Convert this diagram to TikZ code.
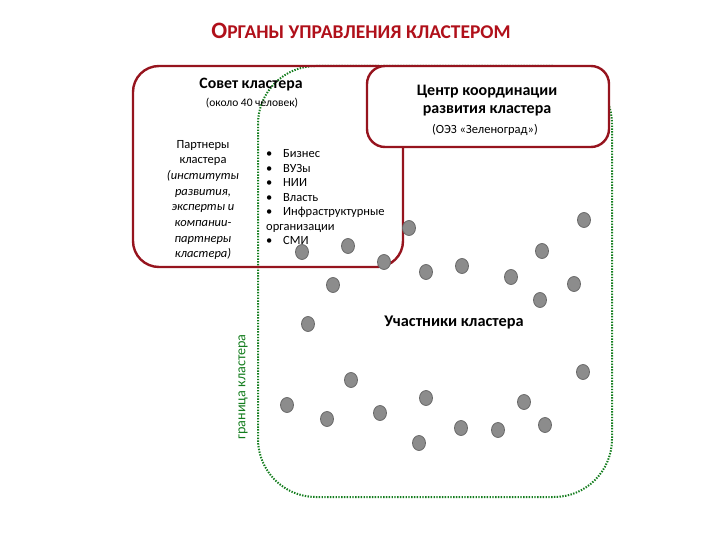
\documentclass[tikz,border=0pt]{standalone}
\usepackage{fontspec}
\setmainfont{Carlito}
\usepackage{tikz}
\usetikzlibrary{positioning,shapes.geometric}

\definecolor{titlered}{RGB}{176,16,26}
\definecolor{boxred}{RGB}{150,20,30}
\definecolor{bordergreen}{RGB}{20,125,30}
\definecolor{dotgray}{RGB}{140,140,140}
\definecolor{dotedge}{RGB}{105,105,105}

\tikzset{
  redbox/.style={draw=boxred, line width=2.4pt},
  greenline/.style={draw=bordergreen, line width=2pt, dash pattern=on 1.4pt off 1.4pt},
  member/.style={ellipse, fill=dotgray, draw=dotedge, line width=0.8pt, minimum width=13pt, minimum height=15pt, inner sep=0pt},
  bodytext/.style={font=\fontsize{12.5}{15.7}\selectfont, inner sep=0pt}
}

\begin{document}
\begin{tikzpicture}[x=1pt,y=-1pt]
\useasboundingbox (0,0) rectangle (720,540);

% Title
\node[text=titlered, font=\bfseries] (title) at (361,31)
  {{\fontsize{23.5}{24}\selectfont О}{\fontsize{19.5}{24}\selectfont РГАНЫ УПРАВЛЕНИЯ КЛАСТЕРОМ}};

% Cluster boundary
\draw[greenline, rounded corners=58pt] (258,66) rectangle (612,497);
\node[rotate=90, text=bordergreen, font=\fontsize{14.2}{16}\selectfont] (boundary) at (243,387) {граница кластера};

% Council
\draw[redbox, rounded corners=26pt] (133,66) rectangle (403,267);
\node[font=\bfseries\fontsize{15.8}{18}\selectfont] (council) at (251,85) {Совет кластера};
\node[font=\fontsize{11.5}{13}\selectfont] (councilsize) at (252,103) {(около 40 человек)};

% Coordination centre
\draw[redbox, fill=white, rounded corners=18pt] (367,66) rectangle (609,147);
\node[font=\bfseries\fontsize{16}{18}\selectfont, align=center] (centre) at (487,101)
  {Центр координации\\развития кластера};
\node[font=\fontsize{12.5}{14}\selectfont] (centrename) at (485,130) {(ОЭЗ «Зеленоград»)};

% Partners
\node[bodytext, align=center] (partners) at (203,200)
  {Партнеры\\кластера\\\itshape(институты\\\itshape развития,\\\itshape эксперты и\\\itshape компании-\\\itshape партнеры\\\itshape кластера)};

% Participant groups
\node[bodytext, font=\fontsize{12.5}{14.5}\selectfont, align=left, anchor=west] (groups) at (266,197.5)
  {\makebox[17pt][l]{•}Бизнес\\
   \makebox[17pt][l]{•}ВУЗы\\
   \makebox[17pt][l]{•}НИИ\\
   \makebox[17pt][l]{•}Власть\\
   \makebox[17pt][l]{•}Инфраструктурные\\
   организации\\
   \makebox[17pt][l]{•}СМИ};

% Members
\foreach \px/\py [count=\i] in {409/228, 384/262, 302/252, 348/246, 426/272, 462/266,
    511/277, 542/251, 540/300, 574/284, 584/220, 333/285, 308/324, 583/372,
    351/380, 287/405, 327/419, 380/413, 426/398, 419/443, 461/428, 498/430,
    524/402, 545/425}
  \node[member] (m\i) at (\px,\py) {};

\node[font=\bfseries\fontsize{16.3}{18}\selectfont] (members) at (454,322) {Участники кластера};

\end{tikzpicture}
\end{document}
